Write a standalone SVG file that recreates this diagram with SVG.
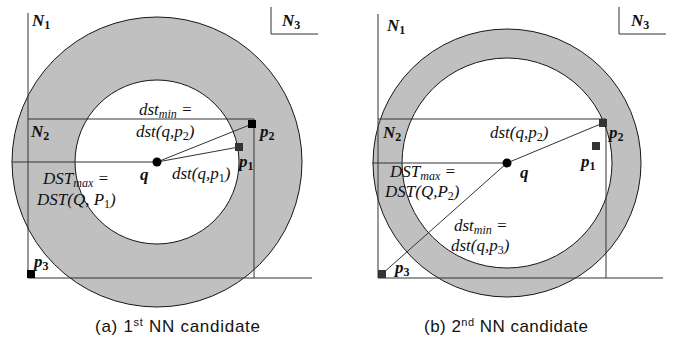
<svg xmlns="http://www.w3.org/2000/svg" width="677" height="339" viewBox="0 0 677 339">
<style>
.ann{fill:#c0c0c0;stroke:#000;stroke-width:0.9}
.hole{fill:#fff;stroke:#000;stroke-width:0.9}
.ln{fill:none;stroke:#333;stroke-width:1}
.it{font-family:"Liberation Serif","Times New Roman",serif;font-style:italic;font-size:17px;fill:#111}
.bi{font-family:"Liberation Serif","Times New Roman",serif;font-style:italic;font-weight:bold;font-size:17px;fill:#111}
.cap{font-family:"Liberation Sans",Arial,sans-serif;font-size:17px;fill:#111}
.sub{font-size:12px;font-style:normal}
.subi{font-size:12px}
</style>
<rect width="677" height="339" fill="#fff"/>
<g id="panel-a">
  <g id="a-circles">
    <circle class="ann" cx="157" cy="162" r="145"/>
    <circle class="hole" cx="157" cy="162" r="82"/>
  </g>
  <g id="a-connectors">
    <path class="ln" d="M28,13V278"/>
    <path class="ln" d="M28,119H254V278"/>
    <path class="ln" d="M28,278H312"/>
    <path class="ln" d="M12,162H157"/>
    <path class="ln" d="M271,7V34H318"/>
    <path class="ln" d="M157,162L252,124"/>
    <path class="ln" d="M157,162L239,147"/>
  </g>
  <g id="a-q"><circle cx="157" cy="162" r="4.5" fill="#000"/><text class="bi" x="140" y="180">q</text></g>
  <g id="a-p2"><rect x="248" y="120" width="8" height="8" fill="#000"/><text class="bi" x="260" y="137">p<tspan class="sub" dy="3">2</tspan></text></g>
  <g id="a-p1"><rect x="235" y="143" width="8" height="8" fill="#333"/><text class="bi" x="239" y="167">p<tspan class="sub" dy="3">1</tspan></text></g>
  <g id="a-p3"><rect x="27" y="270" width="8" height="8" fill="#000"/><text class="bi" x="34" y="267">p<tspan class="sub" dy="3">3</tspan></text></g>
  <g id="a-N1"><text class="bi" x="32" y="26">N<tspan class="sub" dy="3">1</tspan></text></g>
  <g id="a-N2"><text class="bi" x="31" y="137">N<tspan class="sub" dy="3">2</tspan></text></g>
  <g id="a-N3"><text class="bi" x="282" y="26">N<tspan class="sub" dy="3">3</tspan></text></g>
  <g id="a-labels">
    <text class="it" x="139" y="115">dst<tspan class="subi" dy="3">min</tspan><tspan dy="-3"> =</tspan></text>
    <text class="it" x="136" y="137">dst(q,p<tspan class="sub" dy="3">2</tspan><tspan dy="-3">)</tspan></text>
    <text class="it" x="172" y="179">dst(q,p<tspan class="sub" dy="3">1</tspan><tspan dy="-3">)</tspan></text>
    <text class="it" x="43" y="184">DST<tspan class="subi" dy="3">max</tspan><tspan dy="-3"> =</tspan></text>
    <text class="it" x="37" y="205">DST(Q, P<tspan class="sub" dy="3">1</tspan><tspan dy="-3">)</tspan></text>
  </g>
  <text class="cap" x="95" y="332" textLength="165">(a) 1<tspan font-size="11" dy="-6">st</tspan><tspan dy="6"> NN candidate</tspan></text>
</g>
<g id="panel-b">
  <g id="b-circles">
    <circle class="ann" cx="507" cy="163" r="134"/>
    <circle class="hole" cx="507" cy="163" r="105"/>
  </g>
  <g id="b-connectors">
    <path class="ln" d="M378,14V278"/>
    <path class="ln" d="M378,119H606V278"/>
    <path class="ln" d="M378,278H663"/>
    <path class="ln" d="M372,163H507"/>
    <path class="ln" d="M619,7V34H666"/>
    <path class="ln" d="M507,163L603,123"/>
    <path class="ln" d="M507,163L382,274"/>
  </g>
  <g id="b-q"><circle cx="507" cy="163" r="4.5" fill="#000"/><text class="bi" x="520" y="178">q</text></g>
  <g id="b-p2"><rect x="599" y="119" width="8" height="8" fill="#333"/><text class="bi" x="609" y="138">p<tspan class="sub" dy="3">2</tspan></text></g>
  <g id="b-p1"><rect x="592" y="142" width="8" height="8" fill="#333"/><text class="bi" x="581" y="167">p<tspan class="sub" dy="3">1</tspan></text></g>
  <g id="b-p3"><rect x="378" y="270" width="8" height="8" fill="#333"/><text class="bi" x="395" y="273">p<tspan class="sub" dy="3">3</tspan></text></g>
  <g id="b-N1"><text class="bi" x="387" y="31">N<tspan class="sub" dy="3">1</tspan></text></g>
  <g id="b-N2"><text class="bi" x="383" y="138">N<tspan class="sub" dy="3">2</tspan></text></g>
  <g id="b-N3"><text class="bi" x="631" y="26">N<tspan class="sub" dy="3">3</tspan></text></g>
  <g id="b-labels">
    <text class="it" x="490" y="138">dst(q,p<tspan class="sub" dy="3">2</tspan><tspan dy="-3">)</tspan></text>
    <text class="it" x="390" y="177">DST<tspan class="subi" dy="3">max</tspan><tspan dy="-3"> =</tspan></text>
    <text class="it" x="385" y="197">DST(Q,P<tspan class="sub" dy="3">2</tspan><tspan dy="-3">)</tspan></text>
    <text class="it" x="454" y="231">dst<tspan class="subi" dy="3">min</tspan><tspan dy="-3"> =</tspan></text>
    <text class="it" x="451" y="251">dst(q,p<tspan class="sub" dy="3">3</tspan><tspan dy="-3">)</tspan></text>
  </g>
  <text class="cap" x="424" y="332" textLength="164">(b) 2<tspan font-size="11" dy="-6">nd</tspan><tspan dy="6"> NN candidate</tspan></text>
</g>
</svg>
